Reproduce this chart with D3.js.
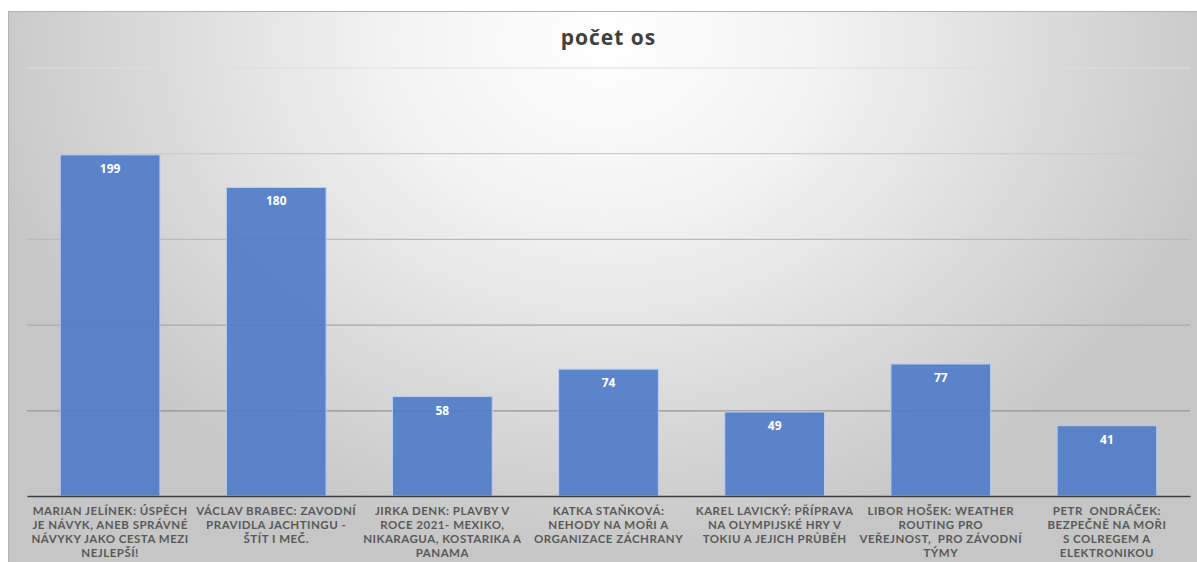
<!DOCTYPE html>
<html>
<head>
<meta charset="utf-8">
<script src="https://cdn.jsdelivr.net/npm/d3@7"></script>
<style>
  body { margin: 0; background: #ffffff; }
  svg { display: block; }
  text { font-family: "Open Sans", "Liberation Sans", sans-serif; }
</style>
</head>
<body>
<script>

// _____________ data
var title = 'počet os'
var categories = [
	['MARIAN JELÍNEK: ÚSPĚCH', 'JE NÁVYK, ANEB SPRÁVNÉ', 'NÁVYKY JAKO CESTA MEZI', 'NEJLEPŠÍ!'],
	['VÁCLAV BRABEC: ZAVODNÍ', 'PRAVIDLA JACHTINGU -', 'ŠTÍT I MEČ.'],
	['JIRKA DENK: PLAVBY V', 'ROCE 2021- MEXIKO,', 'NIKARAGUA, KOSTARIKA A', 'PANAMA'],
	['KATKA STAŇKOVÁ:', 'NEHODY NA MOŘI A', 'ORGANIZACE ZÁCHRANY'],
	['KAREL LAVICKÝ: PŘÍPRAVA', 'NA OLYMPIJSKÉ HRY V', 'TOKIU A JEJICH PRŮBĚH'],
	['LIBOR HOŠEK: WEATHER', 'ROUTING PRO', 'VEŘEJNOST,  PRO ZÁVODNÍ', 'TÝMY'],
	['PETR  ONDRÁČEK:', 'BEZPEČNĚ NA MOŘI', 'S COLREGEM A', 'ELEKTRONIKOU']
]
var values = [199, 180, 58, 74, 49, 77, 41]
var yTicks = [0, 50, 100, 150, 200, 250]

// _____________ layout
var _width = 1197
var _height = 562
var plot = { left: 27, right: 1190, top: 67.5, bottom: 496 }

var svg = d3.select('body')
	.append('svg')
		.attr('width', _width)
		.attr('height', _height)

// background gradient (white in the middle top, grey to the edges)
var defs = svg.append('defs')
var grad = defs.append('radialGradient')
		.attr('id', 'bg')
		.attr('gradientUnits', 'userSpaceOnUse')
		.attr('cx', 605).attr('cy', 40).attr('r', 640)
		.attr('gradientTransform', 'translate(605,40) scale(1,0.82) translate(-605,-40)')
grad.append('stop').attr('offset', 0).attr('stop-color', '#ffffff')
grad.append('stop').attr('offset', 0.35).attr('stop-color', '#f2f2f2')
grad.append('stop').attr('offset', 1).attr('stop-color', '#c6c6c6')

svg.append('rect')
		.attr('x', 8.5).attr('y', 11.5)
		.attr('width', _width).attr('height', _height)
		.style('fill', 'url(#bg)')
		.style('stroke', '#b4b4b4')
		.style('stroke-width', 1)

// _____________ scales
var x = d3.scaleBand()
		.domain(d3.range(values.length))
		.range([plot.left, plot.right])
		.paddingInner(0.4)
		.paddingOuter(0.2)

var y = d3.scaleLinear()
		.domain([0, 250])
		.range([plot.bottom, plot.top])

var gridColor = d3.scaleLinear()
		.domain([50, 250])
		.range(['#969696', '#dedede'])

// gridlines
var grid = svg.append('g')
		.attr('class', 'grid')
		.attr('transform', 'translate(' + plot.left + ',0)')
		.call(d3.axisLeft(y)
			.tickValues(yTicks.filter(function (d) { return d > 0 }))
			.tickSize(-(plot.right - plot.left))
			.tickFormat(''))
grid.select('.domain').remove()
grid.selectAll('.tick line')
		.attr('stroke', function (d) { return gridColor(d) })
		.attr('stroke-width', 1.2)

// title
svg.append('text')
		.attr('x', (plot.left + plot.right) / 2)
		.attr('y', 45)
		.attr('text-anchor', 'middle')
		.style('font-size', '21px')
		.style('font-weight', 700)
		.style('letter-spacing', '1px')
		.style('fill', '#404040')
		.text(title)

// _____________ bars
var bars = svg.append('g').attr('class', 'bars')
	.selectAll('g.bar')
	.data(values)
	.enter()
		.append('g')
		.attr('class', 'bar')

bars.append('rect')
		.attr('x', function (d, i) { return x(i) })
		.attr('y', function (d) { return y(d) })
		.attr('width', x.bandwidth())
		.attr('height', function (d) { return y(0) - y(d) })
		.style('fill', '#4f7cc8')
		.style('fill-opacity', 0.92)
		.style('stroke', '#b9cdf0')
		.style('stroke-width', 1)

bars.append('text')
		.attr('x', function (d, i) { return x(i) + x.bandwidth() / 2 })
		.attr('y', function (d) { return y(d) + 18 })
		.attr('text-anchor', 'middle')
		.style('font-size', '12px')
		.style('font-weight', 700)
		.style('fill', '#ffffff')
		.text(function (d) { return d })

// _____________ x axis
var xAxis = svg.append('g')
		.attr('class', 'x-axis')
		.attr('transform', 'translate(0,' + plot.bottom + ')')
		.call(d3.axisBottom(x).tickSize(0).tickFormat(''))

xAxis.select('.domain')
		.attr('stroke', '#3c3c3c')
		.attr('stroke-width', 1.6)

// category labels, several lines each, 14px apart
xAxis.selectAll('.tick text').remove()
xAxis.selectAll('.tick')
	.append('text')
		.attr('text-anchor', 'middle')
		.attr('y', 19)
		.style('font-family', 'Lato, "Open Sans", sans-serif')
		.style('font-size', '11.5px')
		.style('font-weight', 700)
		.style('letter-spacing', '0.5px')
		.style('fill', '#595959')
		.style('white-space', 'pre')
	.selectAll('tspan')
	.data(function (i) { return categories[i] })
	.enter()
		.append('tspan')
		.attr('x', 0)
		.attr('dy', function (d, j) { return j == 0 ? 0 : 14 })
		.text(function (d) { return d })

</script>
</body>
</html>
